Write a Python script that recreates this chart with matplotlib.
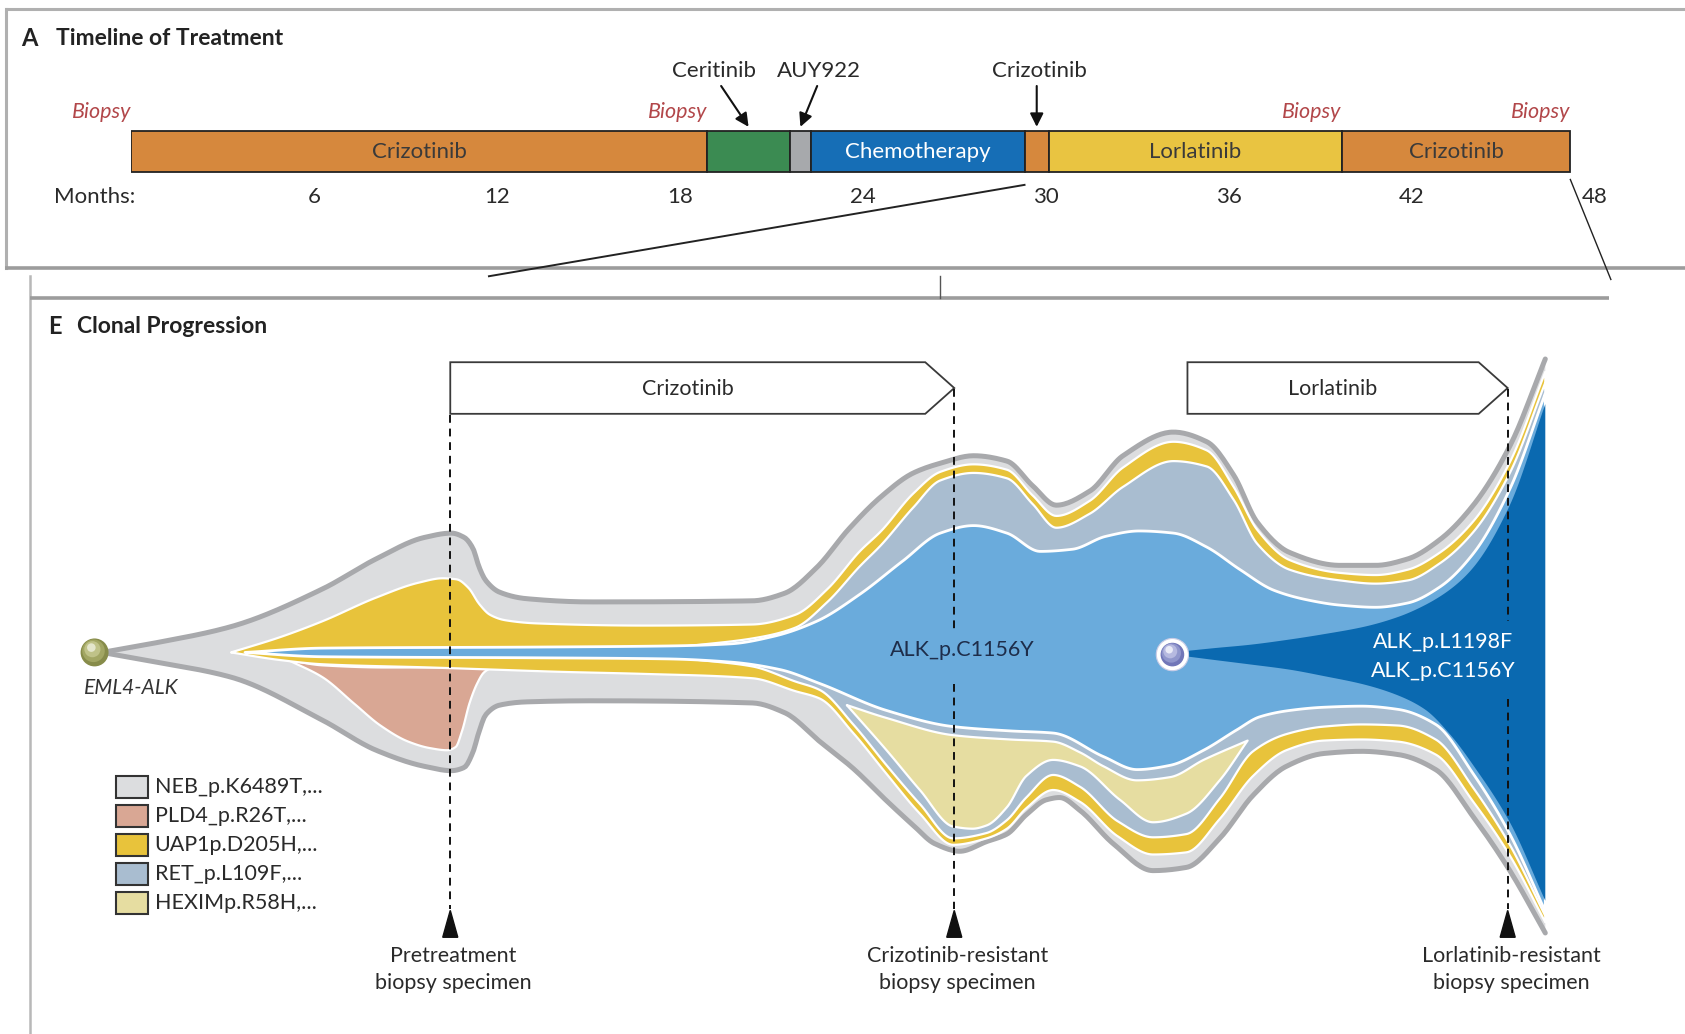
import numpy as np
import matplotlib
matplotlib.use("Agg")
import matplotlib.pyplot as plt
from matplotlib.patches import Polygon, Rectangle, Circle

plt.rcParams['font.family'] = ['Lato', 'DejaVu Sans']

# ---------------- timeline data (months) ----------------
seg_names = ['Crizotinib', 'Ceritinib', 'AUY922', 'Chemotherapy', 'Crizotinib', 'Lorlatinib', 'Crizotinib']
seg_start = [0.0, 18.9, 21.6, 22.3, 29.3, 30.1, 39.7]
seg_end = [18.9, 21.6, 22.3, 29.3, 30.1, 39.7, 47.2]
seg_colors = ['#D6883D', '#3B8B52', '#A7A9AC', '#166EB6', '#D6883D', '#E9C441', '#D6883D']
seg_text = ['Crizotinib', '', '', 'Chemotherapy', '', 'Lorlatinib', 'Crizotinib']
seg_text_color = ['#3a3a3a', '', '', 'white', '', '#3a3a3a', '#3a3a3a']
biopsy_months = [0.0, 18.9, 39.7, 47.2]
month_ticks = [6, 12, 18, 24, 30, 36, 42, 48]
callout_labels = ['Ceritinib', 'AUY922', 'Crizotinib']
callout_segment = [1, 2, 4]
callout_text_month = [19.1, 22.55, 29.8]
callout_tail_month = [19.35, 22.5, 29.7]

# ---------------- clonal progression (fish plot) ----------------
neb_top_x = [95, 140, 215, 300, 350, 395, 420, 432, 440, 446, 452, 465, 490, 550, 700, 730, 760, 790, 820, 850,
             875, 906, 937, 961, 983, 1014, 1045, 1092, 1123, 1148, 1170, 1200, 1247, 1280, 1310, 1340, 1371, 1405,
             1438]
neb_top_y = [607, 599, 583, 548, 520, 500, 496, 500, 510, 528, 540, 551, 557, 560, 559, 552, 528, 492, 462, 440,
             431, 424, 429, 452, 470, 457, 424, 402, 411, 442, 486, 514, 526, 526, 520, 502, 470, 415, 334]
neb_bot_x = [95, 140, 215, 300, 350, 395, 420, 432, 440, 446, 452, 465, 490, 550, 700, 730, 763, 794, 825, 850,
             870, 893, 918, 937, 955, 974, 986, 1005, 1036, 1073, 1104, 1135, 1166, 1197, 1232, 1267, 1301, 1336,
             1371, 1405, 1438]
neb_bot_y = [607, 615, 630, 670, 698, 713, 717, 714, 700, 680, 665, 656, 653, 652, 654, 663, 690, 715, 745, 768,
             785, 792, 783, 776, 758, 744, 742, 754, 785, 810, 807, 780, 740, 713, 701, 699, 702, 716, 760, 810, 868]

pld4_top_x = [268, 300, 360, 420, 457]
pld4_top_y = [614, 619, 621, 621, 621]
pld4_bot_x = [268, 300, 330, 354, 380, 400, 416, 424, 430, 437, 444, 450, 457]
pld4_bot_y = [614, 630, 655, 675, 690, 696, 698, 695, 680, 654, 636, 626, 621]

uap1_top_x = [215, 260, 300, 350, 390, 412, 425, 436, 446, 456, 470, 500, 600, 700, 740, 770, 800, 820, 850, 875,
              906, 937, 961, 983, 1014, 1045, 1092, 1123, 1148, 1170, 1200, 1247, 1280, 1310, 1340, 1371, 1405, 1438]
uap1_top_y = [607, 593, 578, 556, 542, 538, 539, 547, 562, 572, 577, 580, 582, 581, 572, 548, 513, 494, 459, 439,
              432, 437, 461, 480, 466, 435, 411, 419, 453, 493, 521, 533, 535, 530, 514, 485, 430, 346]
uap1_bot_x = [215, 260, 300, 400, 460, 520, 600, 700, 740, 763, 794, 825, 856, 887, 918, 937, 955, 980, 1005, 1040,
              1073, 1104, 1135, 1166, 1197, 1232, 1267, 1301, 1336, 1371, 1405, 1438]
uap1_bot_y = [607, 614, 618, 621, 623, 625, 627, 631, 643, 650, 682, 720, 757, 786, 780, 771, 752, 735, 746, 778,
              795, 793, 762, 722, 698, 689, 688, 690, 702, 746, 796, 858]

ret_top_x = [600, 650, 700, 740, 770, 800, 820, 850, 875, 906, 937, 961, 983, 1014, 1045, 1092, 1123, 1148, 1170,
             1200, 1247, 1280, 1310, 1340, 1371, 1405, 1438]
ret_top_y = [605, 600, 594, 584, 560, 527, 507, 472, 447, 440, 445, 469, 491, 478, 453, 429, 434, 465, 506, 530,
             540, 543, 540, 524, 495, 440, 356]
ret_bot_x = [600, 650, 700, 740, 763, 794, 825, 856, 887, 918, 937, 955, 980, 1005, 1040, 1073, 1104, 1135, 1166,
             1197, 1232, 1267, 1301, 1336, 1371, 1405, 1438]
ret_bot_y = [609, 614, 620, 634, 642, 674, 712, 748, 780, 775, 763, 742, 721, 732, 764, 779, 776, 743, 699, 683,
             676, 674, 675, 688, 733, 786, 852]

hexim_top_x = [788, 825, 887, 940, 980, 1005, 1027, 1058, 1089, 1120, 1161]
hexim_top_y = [656, 668, 684, 688, 690, 700, 713, 726, 723, 707, 689]
hexim_bot_x = [788, 825, 856, 887, 905, 918, 937, 955, 980, 1005, 1042, 1073, 1104, 1135, 1161]
hexim_bot_y = [656, 698, 735, 769, 771, 768, 751, 722, 707, 713, 744, 765, 757, 726, 689]

c1156y_top_x = [228, 300, 500, 620, 680, 720, 760, 800, 840, 875, 906, 937, 968, 998, 1029, 1060, 1092, 1123,
                1154, 1185, 1216, 1247, 1280, 1310, 1340, 1371, 1405, 1438]
c1156y_top_y = [607, 603, 602, 601, 599, 592, 578, 553, 522, 496, 489, 496, 513, 511, 499, 494, 496, 509, 530,
                549, 558, 563, 565, 561, 546, 515, 455, 366]
c1156y_bot_x = [228, 300, 500, 620, 680, 726, 763, 825, 887, 940, 980, 1027, 1058, 1089, 1120, 1151, 1172, 1200,
                1232, 1267, 1301, 1336, 1371, 1405, 1438]
c1156y_bot_y = [607, 611, 612, 613, 616, 623, 636, 661, 676, 680, 682, 704, 716, 712, 698, 679, 667, 661, 658,
                657, 660, 674, 720, 776, 848]

l1198f_x = [1091, 1130, 1162, 1200, 1232, 1270, 1301, 1326, 1350, 1371, 1405, 1438]
l1198f_top = [607, 603, 600, 595, 590, 583, 574, 563, 548, 528, 470, 376]
l1198f_bot = [609, 614, 618, 623, 629, 637, 647, 660, 684, 712, 765, 838]

legend_labels = ['NEB_p.K6489T,...', 'PLD4_p.R26T,...', 'UAP1p.D205H,...', 'RET_p.L109F,...', 'HEXIMp.R58H,...']
clone_colors = {'NEB': '#DCDDDF', 'PLD4': '#D9A794', 'UAP1': '#E8C33B', 'RET': '#A9BDD0',
                'HEXIM': '#E6DDA1', 'C1156Y': '#6AABDC', 'L1198F': '#0A69B0'}
legend_colors = [clone_colors[k] for k in ['NEB', 'PLD4', 'UAP1', 'RET', 'HEXIM']]

specimen_x = [419, 888, 1403]
specimen_labels = ['Pretreatment\nbiopsy specimen', 'Crizotinib-resistant\nbiopsy specimen',
                   'Lorlatinib-resistant\nbiopsy specimen']
therapy_labels = ['Crizotinib', 'Lorlatinib']
therapy_start = [419, 1105]
therapy_end = [888, 1403]

W, H = 1568, 962
fig = plt.figure(figsize=(16.85, 10.34), dpi=100)
ax = fig.add_axes([0, 0, 1, 1])
ax.set_xlim(0, W)
ax.set_ylim(H, 0)
ax.axis('off')


def pchip(x, y, xn):
    x = np.asarray(x, float)
    y = np.asarray(y, float)
    h = np.diff(x)
    d = np.diff(y) / h
    m = np.zeros_like(y)
    for k in range(1, len(x) - 1):
        if d[k - 1] * d[k] > 0:
            w1 = 2 * h[k] + h[k - 1]
            w2 = h[k] + 2 * h[k - 1]
            m[k] = (w1 + w2) / (w1 / d[k - 1] + w2 / d[k])
    m[0] = d[0]
    m[-1] = d[-1]
    i = np.clip(np.searchsorted(x, xn) - 1, 0, len(x) - 2)
    t = (xn - x[i]) / h[i]
    h00 = 2 * t ** 3 - 3 * t ** 2 + 1
    h10 = t ** 3 - 2 * t ** 2 + t
    h01 = -2 * t ** 3 + 3 * t ** 2
    h11 = t ** 3 - t ** 2
    return h00 * y[i] + h10 * h[i] * m[i] + h01 * y[i + 1] + h11 * h[i] * m[i + 1]


def curve(x, y):
    xs = np.linspace(x[0], x[-1], 700)
    return xs, pchip(x, y, xs)


def clone(xt, yt, xb, yb, color, z, edge='white', lw=1.6):
    tx, ty = curve(xt, yt)
    bx, by = curve(xb, yb)
    pts = np.vstack([np.column_stack([tx, ty]), np.column_stack([bx[::-1], by[::-1]])])
    ax.add_patch(Polygon(pts, closed=True, facecolor=color, edgecolor=edge, lw=lw, zorder=z,
                         joinstyle='round'))


# ---- panel frames ----
frame_c = '#9C9C9C'
ax.plot([5, W], [8, 8], color='#B0B0B0', lw=2.2, solid_capstyle='butt')
ax.plot([6, 6], [8, 249], color='#B0B0B0', lw=2.2)
ax.plot([5, W], [249, 249], color=frame_c, lw=2.6, solid_capstyle='butt')
ax.plot([28, 28], [257, H], color='#B8B8B8', lw=1.8)
ax.plot([28, 1497], [277, 277], color=frame_c, lw=2.6, solid_capstyle='butt')
ax.plot([875, 875], [257, 277], color='#555555', lw=1.0)

ax.text(20, 36, 'A', fontsize=17, fontweight='bold', color='#222222', va='center', ha='left')
ax.text(52, 36, 'Timeline of Treatment', fontsize=16.5, fontweight='bold', color='#222222',
        va='center', ha='left')
ax.text(45, 304, 'E', fontsize=17, fontweight='bold', color='#222222', va='center', ha='left')
ax.text(72, 304, 'Clonal Progression', fontsize=16.5, fontweight='bold', color='#222222',
        va='center', ha='left')

# ---- timeline ----
m0, mscale = 122.0, 1362.0 / 48.0
tl = fig.add_axes([m0 / W, 1 - 200.0 / H, 48 * mscale / W, 160.0 / H])
tl.set_xlim(0, 48)
tl.set_ylim(200, 40)
tl.axis('off')
widths = [e - s for s, e in zip(seg_start, seg_end)]
tl.barh(141, widths, left=seg_start, height=38, color=seg_colors, edgecolor='#222222', linewidth=1.3)
for s, e, t, c in zip(seg_start, seg_end, seg_text, seg_text_color):
    if t:
        tl.text((s + e) / 2, 141, t, ha='center', va='center', fontsize=16, color=c)
for m in biopsy_months:
    tl.text(m, 104, 'Biopsy', ha='right', va='center', fontsize=15.5, style='italic', color='#B2474A')
for m in month_ticks:
    tl.text(m, 183, str(m), ha='center', va='center', fontsize=16, color='#2a2a2a')
ax.text(50, 183, 'Months:', ha='left', va='center', fontsize=16, color='#2a2a2a')
for lab, si, tm, tail in zip(callout_labels, callout_segment, callout_text_month, callout_tail_month):
    centre = (seg_start[si] + seg_end[si]) / 2
    tl.text(tm, 66, lab, ha='center', va='center', fontsize=16, color='#2a2a2a')
    tl.annotate('', xy=(centre, 118), xytext=(tail, 80),
                arrowprops=dict(arrowstyle='-|>', color='#111111', lw=1.5, mutation_scale=20,
                                shrinkA=0, shrinkB=0))

# connectors from timeline to clonal panel
ax.plot([m0 + seg_start[4] * mscale, 455], [172, 257], color='#222222', lw=1.4, zorder=5)
ax.plot([m0 + seg_end[-1] * mscale, 1499], [167, 260], color='#222222', lw=1.0, zorder=5)

# ---- fish plot ----
tx, ty = curve(neb_top_x, neb_top_y)
bx, by = curve(neb_bot_x, neb_bot_y)
pts = np.vstack([np.column_stack([tx, ty]), np.column_stack([bx[::-1], by[::-1]])])
ax.add_patch(Polygon(pts, closed=True, facecolor=clone_colors['NEB'], edgecolor='none', zorder=2))
ax.plot(tx, ty, color='#A8A9AC', lw=3.6, zorder=3, solid_capstyle='round')
ax.plot(bx, by, color='#A8A9AC', lw=3.6, zorder=3, solid_capstyle='round')

clone(pld4_top_x, pld4_top_y, pld4_bot_x, pld4_bot_y, clone_colors['PLD4'], 4)
clone(uap1_top_x, uap1_top_y, uap1_bot_x, uap1_bot_y, clone_colors['UAP1'], 5)
clone(ret_top_x, ret_top_y, ret_bot_x, ret_bot_y, clone_colors['RET'], 6)
clone(hexim_top_x, hexim_top_y, hexim_bot_x, hexim_bot_y, clone_colors['HEXIM'], 7)
clone(c1156y_top_x, c1156y_top_y, c1156y_bot_x, c1156y_bot_y, clone_colors['C1156Y'], 8, lw=2.0)
clone(l1198f_x, l1198f_top, l1198f_x, l1198f_bot, clone_colors['L1198F'], 9, edge='none', lw=0)

# founder and resistant-clone spheres
for r, dx, dy, c in [(13, 0, 0, '#878C4A'), (10.5, -1, -1.5, '#A2A663'), (7.5, -2, -3, '#BFC288'),
                     (4, -3, -4.5, '#E4E6CC')]:
    ax.add_patch(Circle((88 + dx, 607 + dy), r, color=c, zorder=10, lw=0))
ax.add_patch(Circle((1091, 609), 15, facecolor='white', edgecolor='#C9CCE6', lw=0.8, zorder=10))
for r, dx, dy, c in [(11, 0, 0, '#7176B8'), (9, -1, -1.5, '#9096CC'), (6.5, -2, -3, '#B6B9E0'),
                     (3.5, -3, -4.5, '#E9EAF7')]:
    ax.add_patch(Circle((1091 + dx, 609 + dy), r, color=c, zorder=11, lw=0))

ax.text(122, 640, 'EML4-ALK', ha='center', va='center', fontsize=15, style='italic', color='#333333', zorder=12)
ax.text(895, 605, 'ALK_p.C1156Y', ha='center', va='center', fontsize=15.5, color='#1E2D4A', zorder=12)
ax.text(1343, 597, 'ALK_p.L1198F', ha='center', va='center', fontsize=15.5, color='white', zorder=12)
ax.text(1343, 624, 'ALK_p.C1156Y', ha='center', va='center', fontsize=15.5, color='white', zorder=12)

# therapy arrows
for lab, s, e in zip(therapy_labels, therapy_start, therapy_end):
    notch = e - 27
    box = [(s, 337), (notch, 337), (e, 361), (notch, 385), (s, 385)]
    ax.add_patch(Polygon(box, closed=True, facecolor='white', edgecolor='#3a3a3a', lw=1.3, zorder=12))
    ax.text((s + notch) / 2, 362, lab, ha='center', va='center', fontsize=15.5, color='#2a2a2a', zorder=13)

# specimen markers
dash = dict(color='#111111', lw=1.4, linestyle=(0, (4, 3)), zorder=13)
ax.plot([specimen_x[0]] * 2, [386, 846], **dash)
ax.plot([specimen_x[1]] * 2, [362, 586], **dash)
ax.plot([specimen_x[1]] * 2, [636, 846], **dash)
ax.plot([specimen_x[2]] * 2, [362, 578], **dash)
ax.plot([specimen_x[2]] * 2, [650, 846], **dash)
for x, lab in zip(specimen_x, specimen_labels):
    ax.add_patch(Polygon([(x, 847), (x - 7, 872), (x + 7, 872)], closed=True, color='#111111', zorder=13))
    ax.text(x + 3, 902, lab, ha='center', va='center', fontsize=15.5, color='#2a2a2a', linespacing=1.45,
            zorder=13)

# legend
for i, (lab, c) in enumerate(zip(legend_labels, legend_colors)):
    yc = 732 + i * 27
    ax.add_patch(Rectangle((108, yc - 10), 30, 20, facecolor=c, edgecolor='#333333', lw=1.5, zorder=12))
    ax.text(144, yc, lab, ha='left', va='center', fontsize=15.5, color='#2a2a2a', zorder=12)

fig.savefig('out.png', dpi=100, facecolor='white')
